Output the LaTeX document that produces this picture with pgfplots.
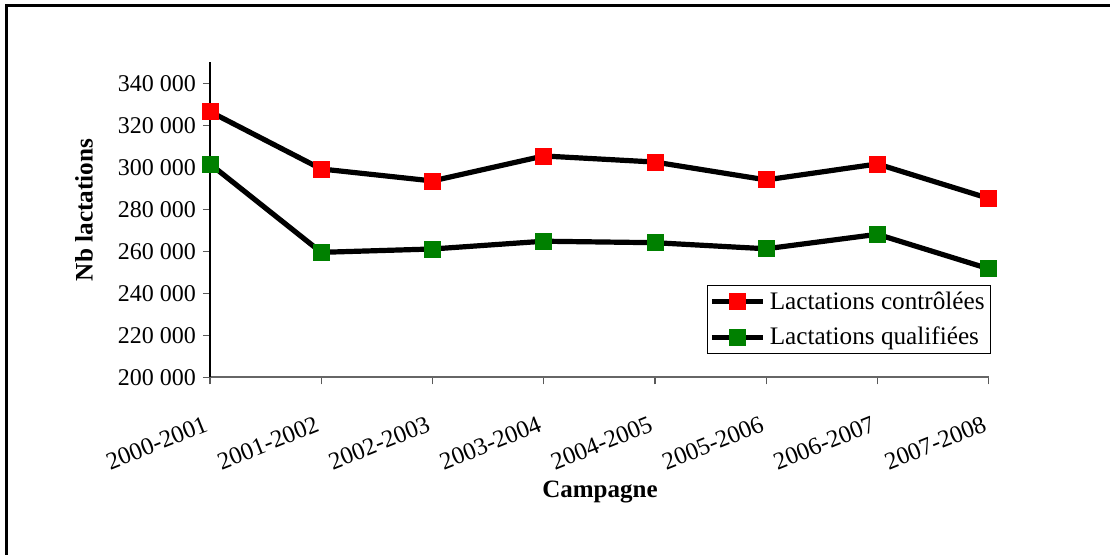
\documentclass[border=0pt]{standalone}
\usepackage{pgfplots}
\pgfplotsset{compat=1.18}
\usepackage{fontspec}
\setmainfont{Liberation Serif}
\definecolor{xlred}{RGB}{255,0,0}
\definecolor{xlgreen}{RGB}{0,128,0}
\pgfplotstableread{
x controlees qualifiees
0 326500 301600
1 299200 259500
2 293500 261100
3 305400 264800
4 302500 264100
5 294000 261200
6 301600 268100
7 285200 251700
}\datatable
\begin{document}
\begin{tikzpicture}[font=\fontsize{12}{14}\selectfont]
\useasboundingbox (0,0) rectangle (555pt,-277.5pt);
\draw[line width=1.5pt] (3pt,-290pt) -- (3pt,-3pt) -- (570pt,-3pt);
\begin{axis}[
  at={(105pt,-188.65pt)}, anchor=origin,
  scale only axis,
  width=389.3pt, height=157.5pt,
  xmin=0, xmax=7, ymin=200000, ymax=350000,
  axis lines*=left,
  x axis line style={gray!80!black, line width=0.8pt},
  y axis line style={black, line width=0.6pt},
  xtick={0,...,7},
  xticklabels={2000-2001,2001-2002,2002-2003,2003-2004,2004-2005,2005-2006,2006-2007,2007-2008},
  ytick={200000,220000,...,340000},
  tick align=outside,
  major tick length=3.5pt,
  every tick/.style={gray!70!black, line width=0.6pt},
  xticklabel style={rotate=22, anchor=north east, xshift=-5.5pt, yshift=-9.5pt, font=\fontsize{12.3}{14}\selectfont},
  scaled y ticks=false,
  yticklabel style={/pgf/number format/.cd, fixed, precision=0, 1000 sep={\ }, assume math mode=true},
  legend style={at={(0.638,0.293)}, anchor=north west, draw=black, line width=0.6pt, fill=white,
    inner sep=1pt, nodes={inner sep=2pt}, row sep=3.5pt, font=\fontsize{12.6}{14}\selectfont},
  legend cell align=left,
  legend image code/.code={%
    \draw[mark repeat=2,mark phase=2] plot coordinates {(0cm,0cm)(0.45cm,0cm)(0.9cm,0cm)};},
  clip=false,
]
\addplot[black, line width=2.6pt, mark=square*, mark size=4pt,
  mark options={fill=xlred, draw=xlred, line width=0.4pt}] table[x=x, y=controlees] {\datatable};
\addlegendentry{Lactations contrôlées}
\addplot[black, line width=2.6pt, mark=square*, mark size=4pt,
  mark options={fill=xlgreen, draw=xlgreen, line width=0.4pt}] table[x=x, y=qualifiees] {\datatable};
\addlegendentry{Lactations qualifiées}
\end{axis}
\node[rotate=90, font=\fontsize{12.6}{14}\selectfont\bfseries] at (42pt,-105pt) {Nb lactations};
\node[font=\fontsize{12.5}{14}\selectfont\bfseries] at (300pt,-246pt) {Campagne};
\end{tikzpicture}
\end{document}
